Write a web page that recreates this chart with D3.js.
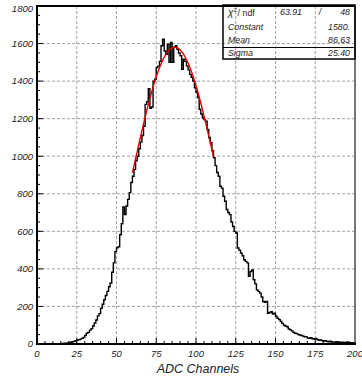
<!DOCTYPE html>
<html>
<head>
<meta charset="utf-8">
<script src="https://cdn.jsdelivr.net/npm/d3@7"></script>
<style>
    body { margin: 0; background: #fff; }
    svg { display: block; font-family: "Liberation Sans", Arial, sans-serif; }
    .tick-label { font-size: 9.5px; font-style: italic; fill: #222; }
</style>
</head>
<body>
<div id="chart"></div>
<script>
// counts per ADC channel (bin width 1, channels 0..199)
const counts = [
    0, 0, 0, 0, 0, 0, 0, 0, 0, 0,
    1, 0, 1, 1, 2, 1, 3, 4, 4, 6,
    8, 9, 12, 14, 18, 21, 22, 26, 30, 35,
    45, 57, 62, 74, 82, 96, 112, 128, 150, 162,
    190, 212, 236, 258, 280, 305, 325, 382, 432, 492,
    512, 518, 582, 640, 730, 690, 735, 770, 806, 860,
    893, 930, 975, 1000, 1040, 1075, 1110, 1160, 1276, 1290,
    1360, 1255, 1262, 1400, 1410, 1472, 1480, 1505, 1588, 1623,
    1560, 1543, 1597, 1500, 1606, 1500, 1580, 1588, 1570, 1550,
    1535, 1463, 1517, 1505, 1481, 1460, 1436, 1420, 1400, 1365,
    1340, 1312, 1250, 1225, 1205, 1195, 1187, 1143, 1100, 1072,
    1030, 992, 950, 913, 893, 840, 830, 787, 760, 716,
    700, 689, 650, 626, 600, 591, 511, 500, 484, 470,
    449, 440, 432, 360, 386, 395, 342, 320, 288, 280,
    271, 250, 226, 222, 226, 164, 168, 172, 160, 164,
    148, 137, 130, 120, 110, 100, 96, 92, 80, 75,
    70, 62, 57, 55, 50, 48, 45, 42, 39, 38,
    32, 30, 33, 28, 26, 30, 24, 20, 22, 18,
    16, 18, 14, 12, 15, 12, 10, 9, 12, 8,
    9, 7, 10, 8, 6, 9, 8, 5, 7, 4
]

const xTicks = [0, 25, 50, 75, 100, 125, 150, 175, 200]
const yTicks = [0, 200, 400, 600, 800, 1000, 1200, 1400, 1600, 1800]

// fit results shown in the stats box
const statLabels = ["Constant", "Mean", "Sigma"]
const statValues = ["1580.", "86.63", "25.40"]
const chi2 = "63.91", ndf = "48"
const fitConstant = 1580, fitMean = 86.63, fitSigma = 25.40
const fitRange = [60, 111]

const width = 362
const height = 378
const margin = { top: 6, right: 7, bottom: 34, left: 37 }

const svg = d3.select("#chart")
    .append("svg")
    .attr("width", width)
    .attr("height", height)

const x = d3.scaleLinear().domain([0, 200]).range([margin.left, width - margin.right])
const y = d3.scaleLinear().domain([0, 1800]).range([height - margin.bottom, margin.top])

// grid
svg.append("g")
    .selectAll("line")
    .data(xTicks.slice(1, -1))
    .join("line")
    .attr("x1", d => x(d)).attr("x2", d => x(d))
    .attr("y1", y(0)).attr("y2", y(1800))
    .attr("stroke", "#8a8a8a")
    .attr("stroke-width", 0.8)
    .attr("stroke-dasharray", "3,2")

svg.append("g")
    .selectAll("line")
    .data(yTicks.slice(1, -1))
    .join("line")
    .attr("x1", x(0)).attr("x2", x(200))
    .attr("y1", d => y(d)).attr("y2", d => y(d))
    .attr("stroke", "#8a8a8a")
    .attr("stroke-width", 0.8)
    .attr("stroke-dasharray", "3,2")

// minor + major ticks inside the frame
const xMinor = d3.range(0, 201, 5)
svg.append("g")
    .selectAll("line")
    .data(xMinor)
    .join("line")
    .attr("x1", d => x(d)).attr("x2", d => x(d))
    .attr("y1", y(0))
    .attr("y2", d => y(0) - (d % 25 === 0 ? 6 : 3))
    .attr("stroke", "#000")

const yMinor = d3.range(0, 1801, 50)
svg.append("g")
    .selectAll("line")
    .data(yMinor)
    .join("line")
    .attr("y1", d => y(d)).attr("y2", d => y(d))
    .attr("x1", x(0))
    .attr("x2", d => x(0) + (d % 200 === 0 ? 6 : 3))
    .attr("stroke", "#000")

// frame
svg.append("line")
    .attr("x1", x(200)).attr("x2", x(200))
    .attr("y1", y(1800)).attr("y2", y(0))
    .attr("stroke", "#777").attr("stroke-width", 2)
svg.append("line")
    .attr("x1", x(0)).attr("x2", x(200))
    .attr("y1", y(1800)).attr("y2", y(1800))
    .attr("stroke", "#000").attr("stroke-width", 2)
svg.append("line")
    .attr("x1", x(0)).attr("x2", x(0))
    .attr("y1", y(1800) - 1).attr("y2", y(0) + 1)
    .attr("stroke", "#000").attr("stroke-width", 2)
svg.append("line")
    .attr("x1", x(0) - 1).attr("x2", x(200) + 1)
    .attr("y1", y(0)).attr("y2", y(0))
    .attr("stroke", "#000").attr("stroke-width", 2)

// histogram as a step line
const steps = []
counts.forEach((c, i) => {
    steps.push([i, c])
    steps.push([i + 1, c])
})
steps.unshift([0, 0])
steps.push([200, 0])

svg.append("path")
    .datum(steps)
    .attr("fill", "none")
    .attr("stroke", "#000")
    .attr("stroke-width", 1.4)
    .attr("d", d3.line().x(d => x(d[0])).y(d => y(d[1])))

// gaussian fit curve
const fitPoints = d3.range(fitRange[0], fitRange[1] + 0.01, 0.5)
    .map(t => [t, fitConstant * Math.exp(-0.5 * ((t - fitMean) / fitSigma) ** 2)])

svg.append("path")
    .datum(fitPoints)
    .attr("fill", "none")
    .attr("stroke", "#e00000")
    .attr("stroke-width", 1.4)
    .attr("d", d3.line().x(d => x(d[0])).y(d => y(d[1])))

// tick labels
svg.append("g")
    .selectAll("text")
    .data(xTicks)
    .join("text")
    .attr("class", "tick-label")
    .attr("x", d => x(d))
    .attr("y", 357)
    .attr("text-anchor", "middle")
    .text(d => d)

svg.append("g")
    .selectAll("text")
    .data(yTicks)
    .join("text")
    .attr("class", "tick-label")
    .attr("x", 33)
    .attr("y", d => Math.max(y(d), 9) + 3.3)
    .attr("text-anchor", "end")
    .text(d => d)

svg.append("text")
    .attr("x", 198)
    .attr("y", 373)
    .attr("text-anchor", "middle")
    .attr("font-size", "12.5px")
    .attr("font-style", "italic")
    .attr("fill", "#222")
    .text("ADC Channels")

// stats box
const box = { x0: 223, x1: 355, y0: 5, y1: 59 }
const stats = svg.append("g").attr("font-size", "8.8px").attr("fill", "#222")

stats.append("rect")
    .attr("x", box.x0).attr("y", box.y0)
    .attr("width", box.x1 - box.x0).attr("height", box.y1 - box.y0)
    .attr("fill", "none")
    .attr("stroke", "#000")
    .attr("stroke-width", 1.5)

stats.append("line")
    .attr("x1", box.x0).attr("x2", box.x1)
    .attr("y1", 47.5).attr("y2", 47.5)
    .attr("stroke", "#000").attr("stroke-width", 1)

const chiLabel = stats.append("text")
    .attr("x", 228).attr("y", 16)
chiLabel.append("tspan").attr("font-style", "italic").attr("font-size", "10px").text("χ")
chiLabel.append("tspan").attr("font-size", "6px").attr("dx", 0.3).attr("dy", -4).text("2")
chiLabel.append("tspan").attr("dy", 4).attr("dx", 0.5).text("/ ndf")

stats.append("text")
    .attr("x", 302).attr("y", 15)
    .attr("text-anchor", "end")
    .attr("font-style", "italic")
    .text(chi2)
stats.append("text")
    .attr("x", 320).attr("y", 15)
    .attr("text-anchor", "middle")
    .attr("font-style", "italic")
    .text("/")
stats.append("text")
    .attr("x", 350).attr("y", 15)
    .attr("text-anchor", "end")
    .attr("font-style", "italic")
    .text(ndf)

const rowY = [30, 43, 56]
stats.selectAll("text.stat-label")
    .data(statLabels)
    .join("text")
    .attr("class", "stat-label")
    .attr("x", 228)
    .attr("y", (d, i) => rowY[i])
    .attr("font-style", "italic")
    .text(d => d)

stats.selectAll("text.stat-value")
    .data(statValues)
    .join("text")
    .attr("class", "stat-value")
    .attr("x", 350)
    .attr("y", (d, i) => rowY[i])
    .attr("text-anchor", "end")
    .attr("font-style", "italic")
    .text(d => d)
</script>
</body>
</html>
